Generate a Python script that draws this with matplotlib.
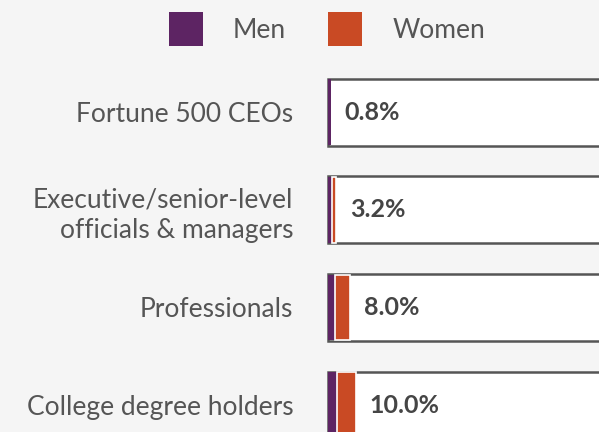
import matplotlib
matplotlib.use("Agg")
import matplotlib.pyplot as plt
from matplotlib.patches import Patch

plt.rcParams['font.family'] = ['Lato', 'DejaVu Sans']

# 資料
categories = ['Fortune 500 CEOs',
              'Executive/senior-level\nofficials & managers',
              'Professionals',
              'College degree holders']
men_share = [1.1, 1.3, 2.5, 3.2]
women_share = [0.0, 1.6, 5.6, 7.1]
value_labels = ['0.8%', '3.2%', '8.0%', '10.0%']
box_width = [200, 200, 200, 200]

color_men = '#5d2463'
color_women = '#c94a24'
color_text = '#555555'
color_edge = '#555555'
bg = '#f5f5f5'

fig = plt.figure(figsize=(5.99, 4.32), dpi=100, facecolor=bg)
ax = fig.add_axes([328 / 599, -0.0507, 271 / 599, 0.9044])
ax.set_facecolor(bg)

y = list(range(len(categories)))

# 外框（白底）
boxes = ax.barh(y, box_width, height=0.686, color='white', edgecolor=color_edge,
                linewidth=1.8, zorder=1)
for b in boxes:
    b.set_clip_on(False)

ax.barh(y, men_share, height=0.672, color=color_men, linewidth=0, zorder=2)
women_lw = [1.2 if w > 0 else 0 for w in women_share]
ax.barh(y, women_share, left=men_share, height=0.672, color=color_women,
        edgecolor='white', linewidth=women_lw, zorder=2)

for i, txt in enumerate(value_labels):
    ax.annotate(txt, (men_share[i] + women_share[i], y[i]), textcoords='offset points',
                xytext=(10, 0), va='center', ha='left', fontsize=18, weight='bold',
                color='#454545', zorder=3)

ax.set_xlim(0, 100)
ax.set_ylim(len(categories) - 0.5, -0.5)
ax.set_yticks(y)
ax.set_yticklabels(categories, fontsize=19, color=color_text, linespacing=1.3)
ax.tick_params(axis='y', length=0, pad=25)
ax.set_xticks([])
for s in ax.spines.values():
    s.set_visible(False)

handles = [Patch(facecolor=color_men, edgecolor='none'),
           Patch(facecolor=color_women, edgecolor='none')]
fig.legend(handles, ['Men', 'Women'], loc='center', bbox_to_anchor=(0.546, 1 - 29 / 432),
           ncol=2, frameon=False, fontsize=19, labelcolor=color_text,
           handlelength=1.29, handleheight=1.6, handletextpad=1.14, columnspacing=1.6)

fig.savefig('out.png', dpi=100, facecolor=bg)
